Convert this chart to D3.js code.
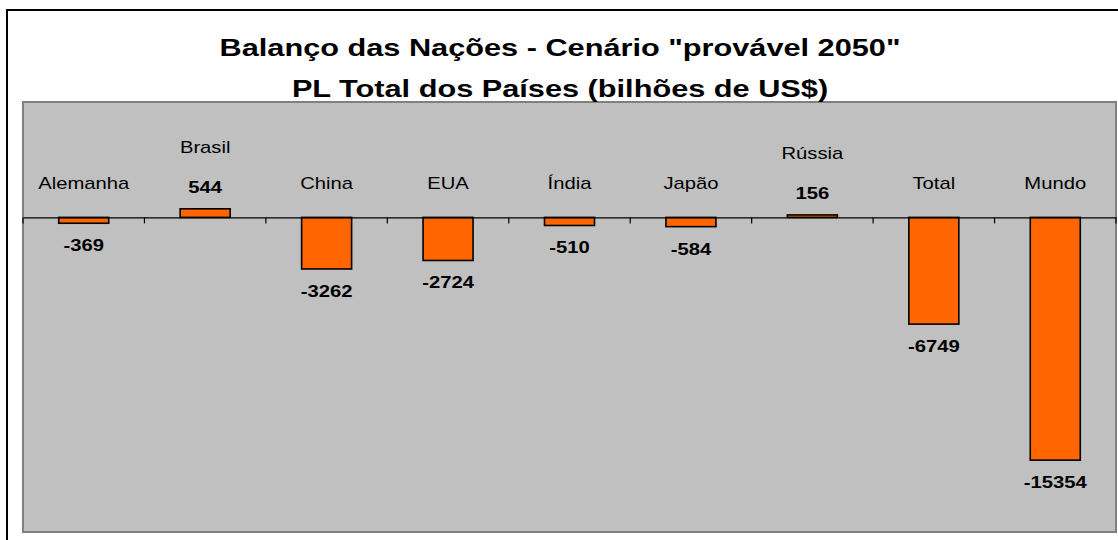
<!DOCTYPE html>
<html>
<head>
<meta charset="utf-8">
<script src="https://cdn.jsdelivr.net/npm/d3@7"></script>
<style>
  body { margin: 0; background: #fff; }
  svg { display: block; font-family: "Liberation Sans", Arial, sans-serif; }
</style>
</head>
<body>
<svg id="svg"></svg>
<script>
const categories = ["Alemanha", "Brasil", "China", "EUA", "Índia", "Japão", "Rússia", "Total", "Mundo"];
const values = [-369, 544, -3262, -2724, -510, -584, 156, -6749, -15354];
const titleLines = ["Balanço das Nações - Cenário \"provável 2050\"", "PL Total dos Países (bilhões de US$)"];

const width = 1118;
const height = 540;

let svg = d3.select("#svg")
    .attr("width", width)
    .attr("height", height);

// outer frame of the chart
svg.append("rect")
    .attr("x", 7)
    .attr("y", 10)
    .attr("width", width + 10)
    .attr("height", height + 10)
    .attr("fill", "#fff")
    .attr("stroke", "#000")
    .attr("stroke-width", 2);

const plot = { left: 23, top: 102, right: 1116, bottom: 532 };

let xScale = d3.scaleBand()
    .domain(categories)
    .range([plot.left, plot.right])
    .paddingInner(0)
    .paddingOuter(0);

let yScale = d3.scaleLinear()
    .domain([7300, -19900])
    .range([plot.top, plot.bottom]);

// the source chart's text is stretched sideways
const textStretch = 1.19;
const titleStretch = 1.28;

function placeText(sel, x, y, sx) {
    sel.attr("transform", (d, i) => `translate(${x(d, i)},${y(d, i)}) scale(${sx},1)`);
}

// plot area background
svg.append("rect")
    .attr("x", plot.left)
    .attr("y", plot.top)
    .attr("width", plot.right - plot.left)
    .attr("height", plot.bottom - plot.top)
    .attr("fill", "#c0c0c0")
    .attr("stroke", "#808080")
    .attr("stroke-width", 2);

// title
svg.append("g")
    .selectAll("text")
    .data(titleLines)
    .join("text")
    .attr("text-anchor", "middle")
    .style("font-size", "24px")
    .style("font-weight", "bold")
    .text(d => d)
    .call(placeText, () => 560, (d, i) => 56 + i * 41, titleStretch);

const barWidth = 50;
const y0 = yScale(0);

// bars
svg.append("g")
    .selectAll("rect")
    .data(values)
    .join("rect")
    .attr("x", (d, i) => xScale(categories[i]) + xScale.bandwidth() / 2 - barWidth / 2)
    .attr("y", d => Math.min(yScale(d), y0))
    .attr("width", barWidth)
    .attr("height", d => Math.abs(yScale(d) - y0))
    .attr("fill", "#ff6600")
    .attr("stroke", "#000")
    .attr("stroke-width", 1.6);

// zero axis with ticks between categories
svg.append("g")
    .attr("transform", `translate(0,${y0})`)
    .call(d3.axisBottom(xScale).tickSize(0).tickFormat(""))
    .call(g => g.select(".domain").attr("stroke", "#000").attr("stroke-width", 1.2))
    .call(g => g.selectAll(".boundary")
        .data(d3.range(categories.length + 1))
        .join("line")
        .attr("class", "boundary")
        .attr("x1", i => plot.left + i * xScale.step())
        .attr("x2", i => plot.left + i * xScale.step())
        .attr("y1", 0)
        .attr("y2", 6)
        .attr("stroke", "#000")
        .attr("stroke-width", 1.2));

function valueBaseline(d) {
    return d >= 0 ? yScale(d) - 16 : yScale(d) + 28;
}

// value labels
svg.append("g")
    .selectAll("text")
    .data(values)
    .join("text")
    .attr("text-anchor", "middle")
    .style("font-size", "17px")
    .style("font-weight", "bold")
    .text(d => d)
    .call(placeText,
        (d, i) => xScale(categories[i]) + xScale.bandwidth() / 2,
        d => valueBaseline(d),
        textStretch);

// category labels
svg.append("g")
    .selectAll("text")
    .data(categories)
    .join("text")
    .attr("text-anchor", "middle")
    .style("font-size", "17px")
    .text(d => d)
    .call(placeText,
        d => xScale(d) + xScale.bandwidth() / 2,
        (d, i) => values[i] >= 0 ? valueBaseline(values[i]) - 40 : 189,
        textStretch);
</script>
</body>
</html>
